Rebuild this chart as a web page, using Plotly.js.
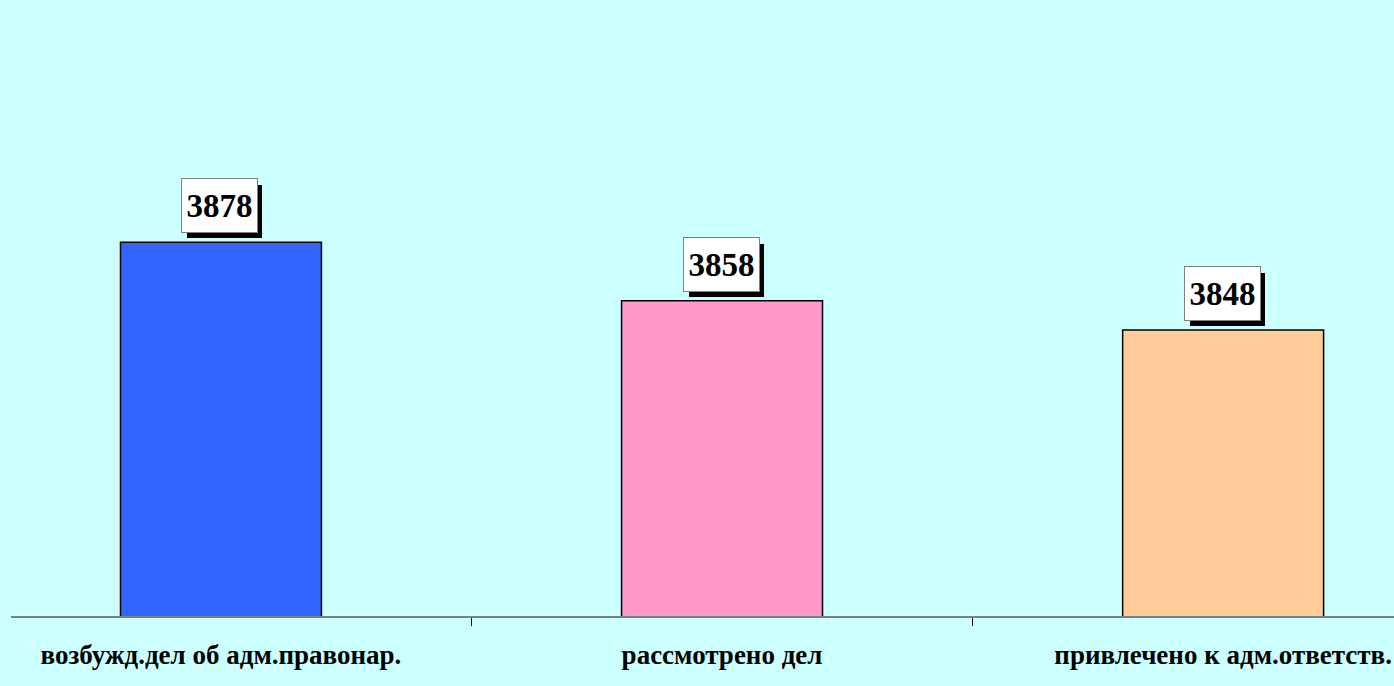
<!DOCTYPE html>
<html>
<head>
<meta charset="utf-8">
<script src="https://cdn.plot.ly/plotly-3.0.1.min.js"></script>
<style>html,body{margin:0;padding:0;background:#CCFFFF;}#chart{width:1394px;height:686px;}</style>
</head>
<body>
<div id="chart"></div>
<script>
const categories = ["возбужд.дел об адм.правонар.", "рассмотрено дел", "привлечено к адм.ответств."];
const values = [3878, 3858, 3848];
const barColors = ["#3366FF", "#FF99CC", "#FFCC99"];

const trace = {
  type: "bar",
  x: categories,
  y: values,
  width: 0.401,
  marker: {color: barColors, line: {color: "#000000", width: 1.5}},
  hoverinfo: "none"
};

const annotations = [];
categories.forEach((c, i) => {
  annotations.push({
    x: c, y: values[i], xref: "x", yref: "y",
    text: "", showarrow: false, width: 73, height: 51,
    bgcolor: "#000000", xanchor: "center", yanchor: "bottom",
    xshift: 4, yshift: 4, borderpad: 0, borderwidth: 1, bordercolor: "#000000"
  });
  annotations.push({
    x: c, y: values[i], xref: "x", yref: "y",
    text: String(values[i]), showarrow: false, width: 73, height: 51,
    font: {family: "Liberation Serif, Times New Roman, serif", size: 33, color: "#000000", weight: 700},
    bgcolor: "#FFFFFF", bordercolor: "#808080", borderwidth: 1, borderpad: 1,
    xanchor: "center", yanchor: "bottom", xshift: -1, yshift: 9
  });
});

const layout = {
  width: 1394, height: 686,
  margin: {l: 11, r: 0, t: 0, b: 70},
  paper_bgcolor: "#CCFFFF",
  plot_bgcolor: "#CCFFFF",
  showlegend: false,
  xaxis: {
    type: "category",
    range: [-0.419, 2.341],
    showline: true, linecolor: "#808080", linewidth: 1.5,
    ticks: "outside", tickson: "boundaries", ticklen: 8, tickcolor: "#000000", tickwidth: 1,
    showgrid: false, zeroline: false,
    ticklabelstandoff: 14,
    tickfont: {family: "Liberation Serif, Times New Roman, serif", size: 27, color: "#000000", weight: 700}
  },
  yaxis: {
    range: [3750, 3961],
    visible: false, showgrid: false, zeroline: false
  },
  annotations: annotations
};

Plotly.newPlot("chart", [trace], layout, {displayModeBar: false, staticPlot: true});
</script>
</body>
</html>
